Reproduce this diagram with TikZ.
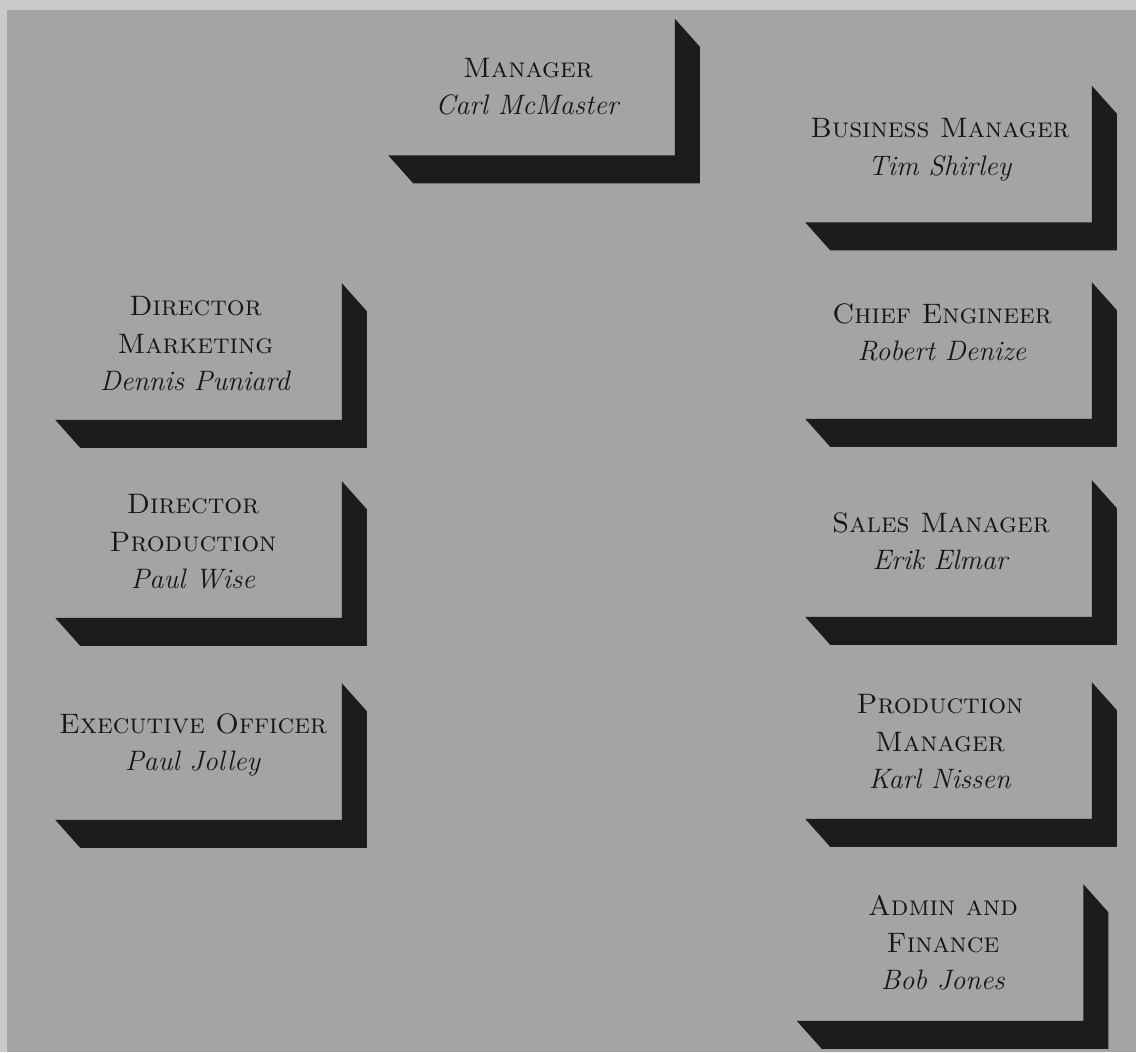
\documentclass[tikz,border=0pt]{standalone}
\usepackage{fontspec}
\usetikzlibrary{calc}
\definecolor{boardgray}{RGB}{164,164,164}
\definecolor{edgegray}{RGB}{202,202,202}
\definecolor{shadowblack}{RGB}{28,28,28}
\definecolor{inkblack}{RGB}{22,22,22}

\tikzset{
  face/.style={minimum width=7.15cm, minimum height=3.4cm, inner sep=0pt},
  post/.style={align=center, inner sep=0pt, text=inkblack, font=\fontsize{20}{26.5}\selectfont}
}
% dark bevelled edge on the right and bottom of a face
\newcommand{\bevel}[1]{%
  \fill[shadowblack] (#1.south west) -- (#1.south east) -- (#1.north east)
    -- ++(25,28) -- ($(#1.south east)+(25,28)$) -- ($(#1.south west)+(25,28)$) -- cycle;}

\begin{document}
\begin{tikzpicture}[x=0.025cm, y=-0.025cm]
\useasboundingbox (0,0) rectangle (1136,1052);

% Board
\fill[edgegray] (0,0) rectangle (1136,1052);
\fill[boardgray] (7,10) rectangle (1136,1052);

% Faces
\node[face] (mgr) at (531.5,87) {};
\node[face] (biz) at (948.5,154) {};
\node[face] (chief) at (948.5,350.5) {};
\node[face] (sales) at (948.5,548.5) {};
\node[face] (prodm) at (948.5,750.5) {};
\node[face] (admin) at (940,952.5) {};
\node[face] (dirmkt) at (198.5,351.5) {};
\node[face] (dirprod) at (198.5,549.5) {};
\node[face] (exec) at (198.5,751.5) {};

% Shadows
\foreach \f in {mgr,biz,chief,sales,prodm,admin,dirmkt,dirprod,exec} {
    \bevel{\f}
}

% Titles and names
\node[post] (mgr-t) at ($(mgr.center)+(-3.5,5)$) {\textsc{Manager}\\\textit{Carl McMaster}\strut};
\node[post] (biz-t) at ($(biz.center)+(-8.5,-1.5)$) {\textsc{Business Manager}\\\textit{Tim Shirley}\strut};
\node[post] (chief-t) at ($(chief.center)+(-6.5,-12.5)$) {\textsc{Chief Engineer}\\\textit{Robert Denize}\strut};
\node[post] (sales-t) at ($(sales.center)+(-7.5,-2)$) {\textsc{Sales Manager}\\\textit{Erik Elmar}\strut};
\node[post] (prodm-t) at ($(prodm.center)+(-8.5,-3.5)$) {\textsc{Production}\\\textsc{Manager}\\\textit{Karl Nissen}\strut};
\node[post] (admin-t) at ($(admin.center)+(3,-4.5)$) {\textsc{Admin and}\\\textsc{Finance}\\\textit{Bob Jones}\strut};
\node[post] (dirmkt-t) at ($(dirmkt.center)+(-3,-2.5)$) {\textsc{Director}\\\textsc{Marketing}\\\textit{Dennis Puniard}\strut};
\node[post] (dirprod-t) at ($(dirprod.center)+(-5.5,-2.5)$) {\textsc{Director}\\\textsc{Production}\\\textit{Paul Wise}\strut};
\node[post] (exec-t) at ($(exec.center)+(-5.5,-3.5)$) {\textsc{Executive Officer}\\\textit{Paul Jolley}\strut};
\end{tikzpicture}
\end{document}
